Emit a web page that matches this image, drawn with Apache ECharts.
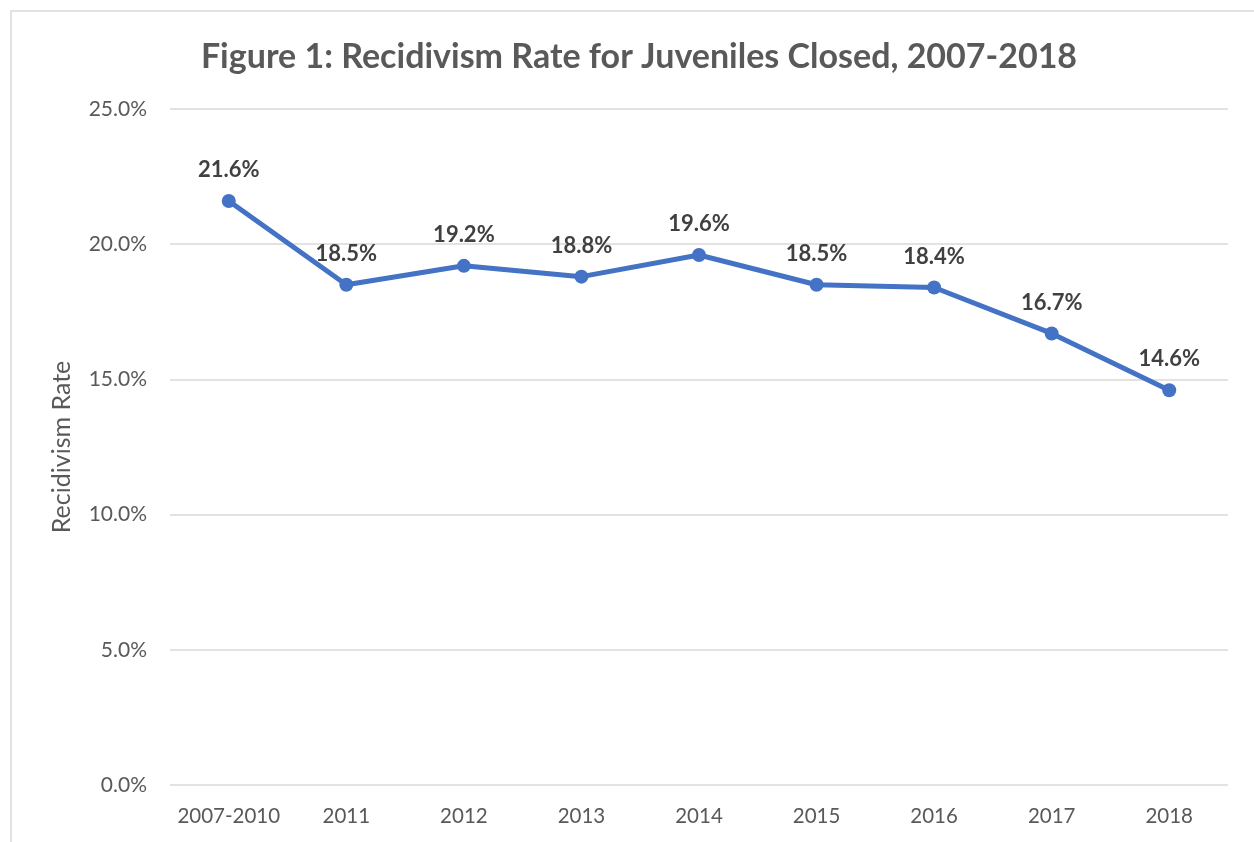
<!DOCTYPE html>
<html>
<head>
<meta charset="utf-8">
<script src="https://cdn.jsdelivr.net/npm/echarts@6/dist/echarts.min.js"></script>
<style>
  html, body { margin: 0; padding: 0; background: #ffffff; }
  #chart { width: 1254px; height: 842px; }
</style>
</head>
<body>
<div id="chart"></div>
<script>
// Recidivism rate by closing year
const categories = ['2007-2010', '2011', '2012', '2013', '2014', '2015', '2016', '2017', '2018'];
const rates = [21.6, 18.5, 19.2, 18.8, 19.6, 18.5, 18.4, 16.7, 14.6];
const yTicks = { min: 0, max: 25, interval: 5 };

const FONT = 'Lato, "Open Sans", sans-serif';
const chart = echarts.init(document.getElementById('chart'));

chart.setOption({
  backgroundColor: '#ffffff',
  animation: false,
  graphic: [{
    type: 'rect',
    shape: { x: 11, y: 11, width: 1300, height: 900 },
    style: { fill: 'none', stroke: '#d9d9d9', lineWidth: 1.5 },
    silent: true
  }],
  title: {
    text: 'Figure 1: Recidivism Rate for Juveniles Closed, 2007-2018',
    left: 634,
    textAlign: 'center',
    top: 35,
    textStyle: { fontFamily: FONT, fontWeight: 'bold', fontSize: 34, color: '#595959' }
  },
  grid: { left: 170, right: 26, top: 109, bottom: 57 },
  xAxis: {
    type: 'category',
    data: categories,
    boundaryGap: true,
    axisLine: { show: false },
    axisTick: { show: false },
    axisLabel: { interval: 0, fontFamily: FONT, fontSize: 20.5, color: '#595959', margin: 21 }
  },
  yAxis: {
    type: 'value',
    min: yTicks.min,
    max: yTicks.max,
    interval: yTicks.interval,
    name: 'Recidivism Rate',
    nameLocation: 'middle',
    nameGap: 96,
    nameRotate: 90,
    nameTextStyle: { fontFamily: FONT, fontSize: 25, color: '#595959' },
    axisLine: { show: false },
    axisTick: { show: false },
    splitLine: { lineStyle: { color: '#d9d9d9', width: 1.5 } },
    axisLabel: {
      fontFamily: FONT, fontSize: 21, color: '#595959', margin: 23,
      formatter: v => v.toFixed(1) + '%'
    }
  },
  series: [{
    type: 'line',
    data: rates,
    symbol: 'circle',
    symbolSize: 14,
    lineStyle: { color: '#4472C4', width: 5 },
    itemStyle: { color: '#4472C4' },
    label: {
      show: true,
      position: 'top',
      distance: 13,
      fontFamily: FONT,
      fontWeight: 'bold',
      fontSize: 22,
      color: '#404040',
      formatter: p => p.value.toFixed(1) + '%'
    }
  }]
});
</script>
</body>
</html>
